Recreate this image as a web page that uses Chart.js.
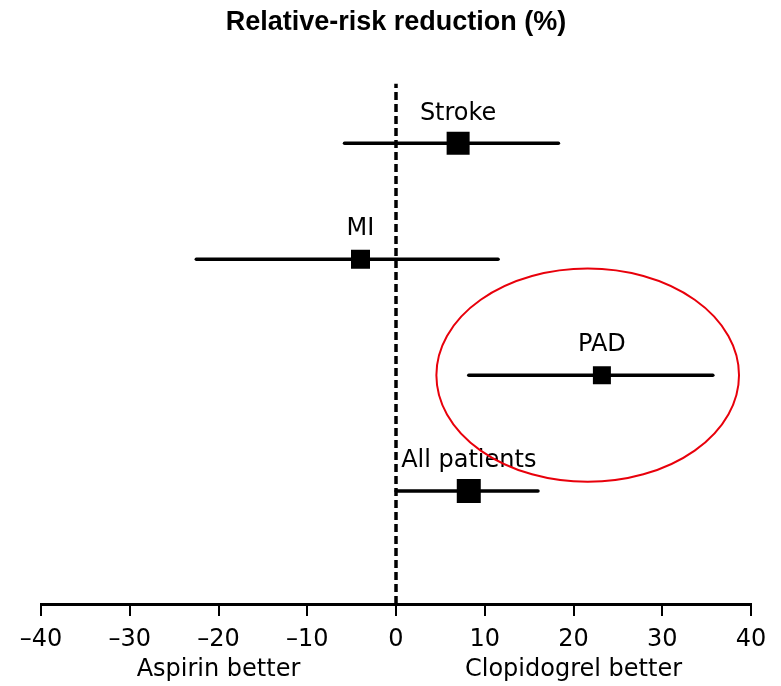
<!DOCTYPE html>
<html lang="en">
<head>
    <meta charset="UTF-8">
    <title>Relative-risk reduction</title>
    <script src="https://cdn.jsdelivr.net/npm/chart.js"></script>
    <style>
        body { margin: 0; background: #fff; }
        canvas { display: block; }
    </style>
</head>
<body>
    <canvas id="forestChart" width="781" height="686"></canvas>

    <script>
        // values
        const outcomes = ['Stroke', 'MI', 'PAD', 'All patients'];
        const rrr = [7.0, -4.0, 23.2, 8.2];
        const ciLow = [-5.8, -22.5, 8.2, 0.0];
        const ciHigh = [18.3, 11.5, 35.7, 16.0];
        const rowPos = [4, 3, 2, 1];
        const xTicks = [-40, -30, -20, -10, 0, 10, 20, 30, 40];
        const sideLabels = ['Aspirin better', 'Clopidogrel better'];
        const sideLabelX = [-20, 20];

        // marker side length in px, per outcome
        const boxSizes = [23, 19, 18, 24];
        // red ellipse round PAD (data units)
        const ring = { x: 21.6, y: 2.0, rx: 17.05, ry: 0.92 };

        const FONT = "'DejaVu Sans', sans-serif";

        const ciSets = outcomes.map((name, i) => ({
            type: 'line',
            label: name + ' CI',
            data: [{ x: ciLow[i], y: rowPos[i] }, { x: ciHigh[i], y: rowPos[i] }],
            borderColor: '#000',
            borderWidth: 3.5,
            borderCapStyle: 'round',
            pointRadius: 0,
            order: 1
        }));

        const extras = {
            id: 'extras',
            afterDatasetsDraw(chart) {
                const ctx = chart.ctx;
                const xs = chart.scales.x, ys = chart.scales.y;
                ctx.save();
                ctx.fillStyle = '#000';
                ctx.textAlign = 'center';
                ctx.textBaseline = 'middle';
                ctx.font = '24px ' + FONT;
                outcomes.forEach((name, i) => {
                    ctx.fillText(name, xs.getPixelForValue(rrr[i]), ys.getPixelForValue(rowPos[i]) - 30);
                });
                sideLabels.forEach((t, i) => {
                    ctx.fillText(t, xs.getPixelForValue(sideLabelX[i]), chart.chartArea.bottom + 66);
                });
                const cx = xs.getPixelForValue(ring.x);
                const cy = ys.getPixelForValue(ring.y);
                const rx = xs.getPixelForValue(ring.x + ring.rx) - cx;
                const ry = cy - ys.getPixelForValue(ring.y + ring.ry);
                ctx.beginPath();
                ctx.ellipse(cx, cy, rx, ry, 0, 0, Math.PI * 2);
                ctx.strokeStyle = '#e8000b';
                ctx.lineWidth = 2;
                ctx.stroke();
                ctx.restore();
            }
        };

        const ctx = document.getElementById('forestChart').getContext('2d');
        new Chart(ctx, {
            type: 'scatter',
            data: {
                datasets: [
                    {
                        label: 'RRR',
                        data: rrr.map((v, i) => ({ x: v, y: rowPos[i] })),
                        pointStyle: 'rect',
                        pointRadius: boxSizes.map(s => s / Math.SQRT2),
                        backgroundColor: '#000',
                        borderColor: '#000',
                        borderWidth: 0,
                        order: 0
                    },
                    ...ciSets,
                    {
                        type: 'line',
                        label: 'zero',
                        data: [{ x: 0, y: 0.026 }, { x: 0, y: 4.517 }],
                        borderColor: '#000',
                        borderWidth: 3.5,
                        borderDash: [8, 4],
                        pointRadius: 0,
                        order: 2
                    }
                ]
            },
            options: {
                responsive: false,
                animation: false,
                events: [],
                layout: { padding: { left: 41, right: 30, top: 0, bottom: 0 } },
                plugins: {
                    legend: { display: false },
                    tooltip: { enabled: false },
                    title: {
                        display: true,
                        text: 'Relative-risk reduction (%)',
                        color: '#000',
                        font: { family: "'Liberation Sans', Arial, sans-serif", size: 27, weight: 'bold' },
                        padding: { top: 6, bottom: 45 }
                    }
                },
                scales: {
                    x: {
                        type: 'linear',
                        min: -40,
                        max: 40,
                        afterBuildTicks: axis => { axis.ticks = xTicks.map(v => ({ value: v })); },
                        afterFit: axis => { axis.height = 82; },
                        grid: { drawOnChartArea: false, drawTicks: true, tickLength: 12, color: '#000', lineWidth: 2 },
                        border: { color: '#000', width: 3 },
                        ticks: {
                            color: '#000',
                            padding: 9,
                            font: { family: FONT, size: 24 },
                            callback: v => v < 0 ? '\u2013' + Math.abs(v) : String(v)
                        }
                    },
                    y: {
                        type: 'linear',
                        min: 0.026,
                        max: 4.517,
                        display: false
                    }
                }
            },
            plugins: [extras]
        });
    </script>
</body>
</html>
